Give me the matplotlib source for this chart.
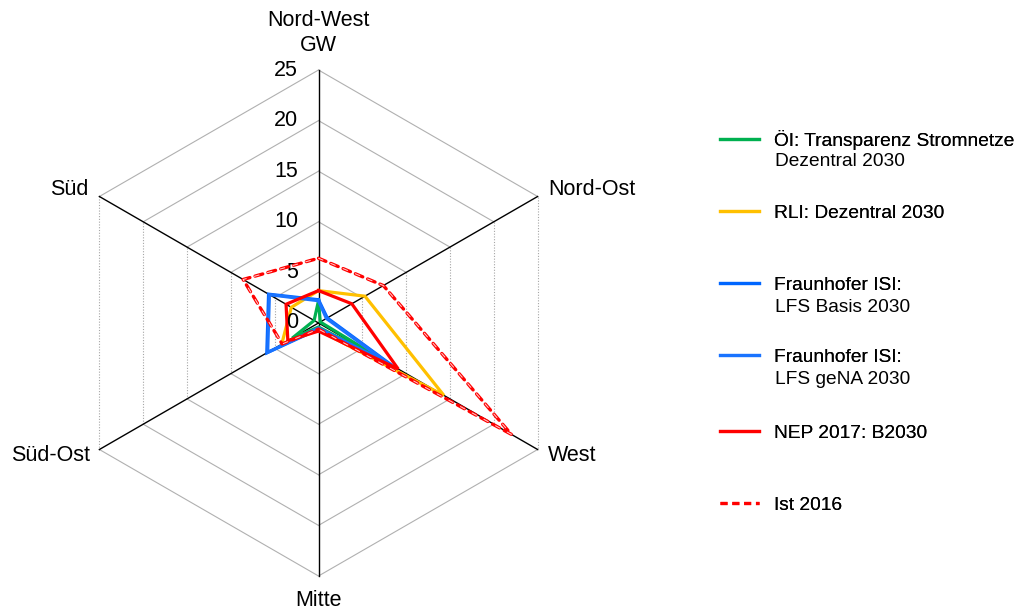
import numpy as np
import matplotlib
matplotlib.use("Agg")
import matplotlib.pyplot as plt
from matplotlib.lines import Line2D

plt.rcParams['font.family'] = ['Liberation Sans', 'DejaVu Sans']

# ---- data ----
categories = ["Nord-West", "Nord-Ost", "West", "Mitte", "Süd-Ost", "Süd"]
unit_label = "GW"
r_ticks = [0, 5, 10, 15, 20, 25]

oi_dezentral = [2.2, 0.2, 7.6, 0.4, 3.0, 0.5]
rli_dezentral = [3.2, 5.3, 14.3, 0.7, 4.2, 3.1]
fh_basis = [2.3, 1.0, 8.4, 0.6, 5.9, 5.7]
fh_gena = [2.2, 0.9, 8.0, 0.5, 5.8, 5.6]
nep_b2030 = [3.2, 3.8, 9.1, 0.8, 3.5, 3.7]
ist_2016 = [6.4, 7.4, 22.0, 0.6, 4.15, 8.6]

series_labels = ["ÖI: Transparenz Stromnetze\nDezentral 2030",
                 "RLI: Dezentral 2030",
                 "Fraunhofer ISI:\nLFS Basis 2030",
                 "Fraunhofer ISI:\nLFS geNA 2030",
                 "NEP 2017: B2030",
                 "Ist 2016"]
series_values = [oi_dezentral, rli_dezentral, fh_basis, fh_gena, nep_b2030, ist_2016]
series_colors = ["#00B050", "#FFC000", "#0066FF", "#1A73FF", "#FF0000", "#FF0000"]

# ---- figure ----
W, H = 1020, 612
fig = plt.figure(figsize=(W / 100, H / 100), dpi=100)
cx, cy, R = 318.5, 323.0, 253.0
ax = fig.add_axes([(cx - R) / W, (H - cy - R) / H, 2 * R / W, 2 * R / H], projection='polar')
ax.set_theta_offset(np.pi / 2)
ax.set_theta_direction(-1)
ax.set_ylim(0, 25)
ax.set_axis_off()

n = len(categories)
theta = np.arange(n) * 2 * np.pi / n

# hexagonal grid
for lvl in r_ticks[1:]:
    for i in range(n):
        j = (i + 1) % n
        vertical = (i == 1 or i == 4)
        if vertical:
            ax.plot([theta[i], theta[j]], [lvl, lvl], color="#A6A6A6", lw=0.8,
                    linestyle=(0, (1, 1.5)), zorder=1, clip_on=False)
        else:
            ax.plot([theta[i], theta[j]], [lvl, lvl], color="#B0B0B0", lw=0.8,
                    zorder=1, clip_on=False)
# spokes
for t in theta:
    ax.plot([t, t], [0, 25], color="black", lw=1.0, zorder=2, clip_on=False)

# series
th_closed = np.append(theta, theta[0])
for vals, col in zip(series_values[:-1], series_colors[:-1]):
    v = np.append(vals, vals[0])
    ax.plot(th_closed, v, color=col, lw=2.3, solid_joinstyle='miter', zorder=3, clip_on=False)

v = np.append(ist_2016, ist_2016[0])
ax.plot(th_closed, v, color="#FF0000", lw=2.4, dashes=(2.4, 1.6),
        dash_capstyle='round', zorder=4, clip_on=False)
ax.plot(th_closed, v, color="#FFD0D0", lw=0.7, dashes=(5.0, 8.7),
        dash_capstyle='round', zorder=5, clip_on=False)

# category labels
lab_fs = 15.5
offs = {
    0: (0, 36, 'center', 'center'),
    1: (7.6, 4.7, 'left', 'center'),
    2: (7.6, -4.0, 'left', 'center'),
    3: (0, -17.3, 'center', 'center'),
    4: (-6.8, -4.0, 'right', 'center'),
    5: (-8.0, 4.7, 'right', 'center'),
}
for i, name in enumerate(categories):
    dx, dy, ha, va = offs[i]
    ax.annotate(name, xy=(theta[i], 25), xytext=(dx, dy), textcoords='offset points',
                ha=ha, va=va, fontsize=lab_fs, annotation_clip=False)
ax.annotate(unit_label, xy=(0, 25), xytext=(0, 17.3), textcoords='offset points',
            ha='center', va='center', fontsize=lab_fs, annotation_clip=False)

# radial tick labels
for tv in r_ticks:
    ax.annotate(str(tv), xy=(0, tv), xytext=(-14.8, 0), textcoords='offset points',
                ha='right', va='center', fontsize=lab_fs, annotation_clip=False)

# legend, one entry per box; handle aligned with the first text line
leg_fs = 13.8
leg_y = [140, 213, 285, 357, 433, 505]
line_gap = 22
for k, (lab, col) in enumerate(zip(series_labels, series_colors)):
    if k == len(series_labels) - 1:
        h = Line2D([], [], color=col, lw=2.3, dashes=(2.2, 1.5))
    else:
        h = Line2D([], [], color=col, lw=2.3)
    lines = lab.split("\n")
    lg = fig.legend([h], [lines[0]], loc='center left',
                    bbox_to_anchor=(720 / W, 1 - leg_y[k] / H),
                    frameon=False, fontsize=leg_fs, borderpad=0, borderaxespad=0,
                    handlelength=2.05, handletextpad=0.78)
    fig.add_artist(lg)
    for m, extra in enumerate(lines[1:], start=1):
        fig.text(775 / W, 1 - (leg_y[k] + m * line_gap) / H, extra,
                 ha='left', va='center', fontsize=leg_fs)

fig.savefig("out.png", dpi=100, facecolor="white")
